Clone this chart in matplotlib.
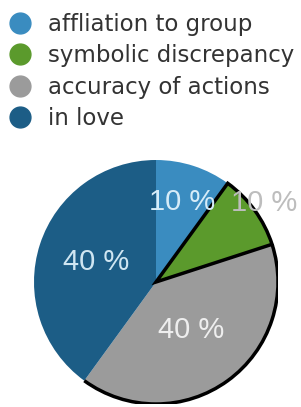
import numpy as np
import matplotlib
matplotlib.use("Agg")
import matplotlib.pyplot as plt
from matplotlib.lines import Line2D
from matplotlib.patches import Arc

plt.rcParams['font.family'] = ['DejaVu Sans']

labels = ["affliation to group", "symbolic discrepancy", "accuracy of actions", "in love"]
values = [10, 10, 40, 40]
colors = ["#3a8cc0", "#5b9a2c", "#9b9b9b", "#1c5d86"]
pct_labels = ["10 %", "10 %", "40 %", "40 %"]
text_colors = ["#d6ecf8", "#bdbdbd", "#eeeeee", "#cfe6f2"]
text_dist = [0.69, 1.1, 0.49, 0.52]

W, H = 301, 407
fig = plt.figure(figsize=(W / 100, H / 100), dpi=100)

# pie axes, centre (156, 282) px from top, radius 122 px
cx, cy, r = 156, 282, 122
ax = fig.add_axes([(cx - r) / W, (H - cy - r) / H, 2 * r / W, 2 * r / H])
wedges, _ = ax.pie(values, colors=colors, startangle=90, counterclock=False,
                   radius=1, wedgeprops=dict(linewidth=0))
ax.set_xlim(-1, 1)
ax.set_ylim(-1, 1)
ax.set_aspect('auto')
ax.axis('off')

# black outline on the green slice, shadow arc on the grey one
wedges[1].set_edgecolor('black')
wedges[1].set_linewidth(2.5)
wedges[1].set_zorder(3)
g = wedges[2]
ax.add_patch(Arc((0, 0), 2.0, 2.0, theta1=g.theta1, theta2=g.theta2,
                 color='black', lw=2.5, zorder=4))

for w, t, c, d in zip(wedges, pct_labels, text_colors, text_dist):
    mid = np.deg2rad((w.theta1 + w.theta2) / 2)
    ax.text(d * np.cos(mid), d * np.sin(mid), t, color=c, fontsize=21,
            family='Liberation Sans', ha='center', va='center', zorder=5,
            clip_on=False)

handles = [Line2D([], [], linestyle='none', marker='o', markersize=15,
                  markerfacecolor=c, markeredgecolor=c) for c in colors]
fig.legend(handles, labels, loc='upper left', bbox_to_anchor=(10 / W, 1 - 13 / H),
           frameon=False, fontsize=16.5, handlelength=0.87, handletextpad=0.78,
           labelspacing=0.37, borderpad=0, borderaxespad=0, labelcolor='#333333')

fig.savefig("out.png", dpi=100)
